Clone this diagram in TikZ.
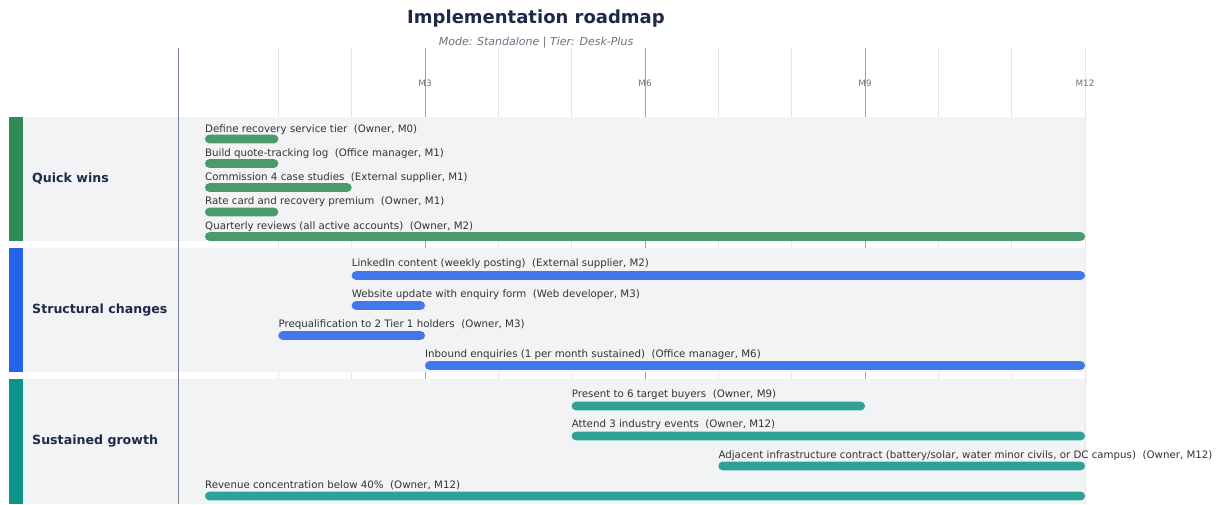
\documentclass[tikz,border=0pt]{standalone}
\usepackage{fontspec}
\setmainfont{DejaVu Sans}
\definecolor{navy}{HTML}{1E2A4A}
\definecolor{subgray}{HTML}{6B7280}
\definecolor{labelgray}{HTML}{333333}
\definecolor{bandbg}{HTML}{F2F3F5}
\definecolor{minorgrid}{HTML}{E5E7EB}
\definecolor{majorgrid}{HTML}{9CA3AF}
\definecolor{axisgray}{HTML}{7A8394}
\definecolor{qwgreen}{HTML}{2E8B57}
\definecolor{scblue}{HTML}{2563EB}
\definecolor{sgteal}{HTML}{0D9488}
\tikzset{
  tasklabel/.style={inner sep=0pt, text=labelgray, font=\fontsize{10.25}{12}\selectfont},
  lanetitle/.style={inner sep=0pt, anchor=west, text=navy, font=\bfseries\fontsize{12.6}{15}\selectfont},
  monthlabel/.style={inner sep=0pt, text=subgray, font=\fontsize{8.8}{10}\selectfont},
  minorline/.style={draw=minorgrid, line width=0.8pt},
  majorline/.style={draw=majorgrid, line width=0.9pt},
}
% x position of month m on the time axis
\newcommand\mx[1]{205+73.333*#1}
% one task: colour, start month, end month, bar centre y, label baseline y, label
\newcommand\taskbar[6]{%
  \fill[#1, opacity=.85, rounded corners=4.2pt] ({\mx{#2}},{#4-4.3}) rectangle ({\mx{#3}},{#4+4.3});
  \node[tasklabel, anchor=base west] at ({\mx{#2}},#5) {#6};}
\begin{document}
\begin{tikzpicture}[x=1pt, y=-1pt]
\useasboundingbox[fill=white] (0,0) rectangle (1221,504);

% heading
\node[inner sep=0pt, text=navy, font=\bfseries\fontsize{18}{22}\selectfont] (title) at (536,19) {Implementation roadmap};
\node[inner sep=0pt, text=subgray, font=\itshape\fontsize{11}{13}\selectfont] (subtitle) at (536,43) {Mode: Standalone | Tier: Desk-Plus};

% month grid
\foreach \m in {1,2,4,5,7,8,10,11,12}
  \draw[minorline] ({\mx{\m}},48) -- ({\mx{\m}},504);
\foreach \m in {3,6,9}
  \draw[majorline] ({\mx{\m}},48) -- ({\mx{\m}},504);
\foreach \m in {3,6,9,12}
  \node[monthlabel] (month\m) at ({\mx{\m}},83) {M\m};

% lane backgrounds and colour strips
\fill[bandbg] (9,117) rectangle (1085,241);
\fill[bandbg] (9,248) rectangle (1085,372);
\fill[bandbg] (9,379) rectangle (1085,504);
\fill[qwgreen] (9,117) rectangle (22.5,241);
\fill[scblue] (9,248) rectangle (22.5,372);
\fill[sgteal] (9,379) rectangle (22.5,504);

% left axis
\draw[axisgray, line width=0.9pt] (178,48) -- (178,504);

% lane titles
\node[lanetitle] (lane1) at (32,179) {Quick wins};
\node[lanetitle] (lane2) at (32,310) {Structural changes};
\node[lanetitle] (lane3) at (32,441) {Sustained growth};

% quick wins
\taskbar{qwgreen}{0}{1}{139}{132}{Define recovery service tier\ \ (Owner, M0)}
\taskbar{qwgreen}{0}{1}{163.5}{156}{Build quote-tracking log\ \ (Office manager, M1)}
\taskbar{qwgreen}{0}{2}{187.5}{180.5}{Commission 4 case studies\ \ (External supplier, M1)}
\taskbar{qwgreen}{0}{1}{212}{204.5}{Rate card and recovery premium\ \ (Owner, M1)}
\taskbar{qwgreen}{0}{12}{236.5}{229}{Quarterly reviews (all active accounts)\ \ (Owner, M2)}

% structural changes
\taskbar{scblue}{2}{12}{275.5}{266.5}{LinkedIn content (weekly posting)\ \ (External supplier, M2)}
\taskbar{scblue}{2}{3}{305.5}{297}{Website update with enquiry form\ \ (Web developer, M3)}
\taskbar{scblue}{1}{3}{335.5}{327}{Prequalification to 2 Tier 1 holders\ \ (Owner, M3)}
\taskbar{scblue}{3}{12}{365.5}{357.5}{Inbound enquiries (1 per month sustained)\ \ (Office manager, M6)}

% sustained growth
\taskbar{sgteal}{5}{9}{406}{397.5}{Present to 6 target buyers\ \ (Owner, M9)}
\taskbar{sgteal}{5}{12}{436}{427.5}{Attend 3 industry events\ \ (Owner, M12)}
\taskbar{sgteal}{7}{12}{466}{458}{Adjacent infrastructure contract (battery/solar, water minor civils, or DC campus)\ \ (Owner, M12)}
\taskbar{sgteal}{0}{12}{496}{488}{Revenue concentration below 40\%\ \ (Owner, M12)}
\end{tikzpicture}
\end{document}
